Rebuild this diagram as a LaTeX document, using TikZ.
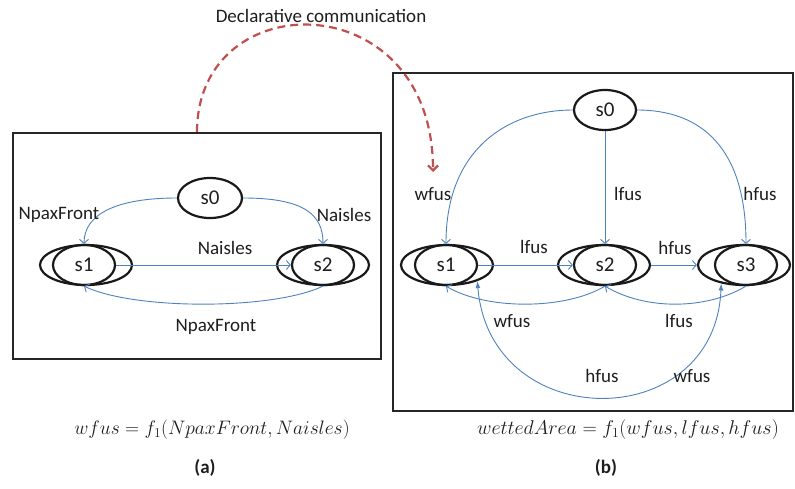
\documentclass[tikz,border=0pt]{standalone}
\usepackage{graphicx}
\usepackage{fontspec}
\setmainfont{Carlito}
\usetikzlibrary{shapes.geometric,arrows.meta}
\definecolor{eblue}{RGB}{79,129,189}
\definecolor{ered}{RGB}{192,80,77}
\definecolor{txt}{RGB}{30,30,30}
\begin{document}
\begin{tikzpicture}[x=1pt,y=-1pt,
  every node/.style={font=\fontsize{19}{22}\selectfont, text=txt},
  frame/.style={draw=black!85, line width=2pt, rectangle, inner sep=0pt},
  st/.style={ellipse, draw=black!90, line width=2.2pt, minimum width=62pt, minimum height=40pt, inner sep=0pt, font=\fontsize{21}{24}\selectfont},
  sto/.style={ellipse, draw=black!90, line width=2.2pt, minimum width=92pt, minimum height=40pt, inner sep=0pt},
  tr/.style={draw=eblue, line width=0.9pt, -{Straight Barb[length=4pt,width=9pt]}},
  trb/.style={draw=eblue, line width=0.9pt, {Latex[length=7pt,width=5pt]}-{Latex[length=7pt,width=5pt]}},
  decl/.style={draw=ered, line width=2.2pt, dash pattern=on 8pt off 5pt, -{Straight Barb[length=5pt,width=10pt]}},
  mth/.style={font=\fontsize{20}{24}\selectfont},
  captxt/.style={font=\fontsize{19}{22}\selectfont\bfseries}
]
\useasboundingbox (0,0) rectangle (795,488);

% frames
\node[frame, minimum width=368pt, minimum height=226pt] (boxa) at (197,246) {};
\node[frame, minimum width=400pt, minimum height=338pt] (boxb) at (593,242) {};

% declarative communication
\coordinate (declend) at (433,172);
\draw[decl] (boxa.north) .. controls (197,-17) and (433,-17) .. (declend);
\node (decltxt) at (321,16) {Declarative communication};

% left diagram
\node[st, minimum width=64pt] (a0) at (210,198) {s0};
\node[sto] (a1o) at (86,265) {};
\node[st] (a1) at (84,265) {s1};
\node[sto] (a2o) at (323,265) {};
\node[st] (a2) at (323,265) {s2};

\draw[tr] (a0.west) .. controls +(-60,0) and +(0,-30) .. (a1.north);
\draw[tr] (a0.east) .. controls +(60,0) and +(0,-30) .. (a2.north);
\draw[tr] (a1.east) -- (a2.west);
\draw[tr] (a2.south) .. controls +(-50,24) and +(50,24) .. (a1.south);

\node (la1) at (59,215) {NpaxFront};
\node (la2) at (344,215) {Naisles};
\node (la3) at (225,248) {Naisles};
\node (la4) at (216,327) {NpaxFront};

% right diagram
\node[st] (b0) at (605,110) {s0};
\node[sto] (b1o) at (447,265) {};
\node[st] (b1) at (446,265) {s1};
\node[sto] (b2o) at (604,265) {};
\node[st] (b2) at (605,265) {s2};
\node[sto] (b3o) at (744,265) {};
\node[st] (b3) at (746,265) {s3};

\draw[tr] (b0.west) .. controls +(-65,0) and +(0,-95) .. (b1.north);
\draw[tr] (b0.south) -- (b2.north);
\draw[tr] (b0.east) .. controls +(65,0) and +(0,-95) .. (b3.north);
\draw[tr] (b1.east) -- (b2.west);
\draw[tr] (b2o.east) -- (b3o.west);
\draw[tr] (b2.south) .. controls +(-40,24) and +(40,24) .. (b1.south);
\draw[tr] (b3.south) .. controls +(-40,24) and +(40,24) .. (b2.south);
\draw[trb] (b1o.-28) .. controls (490,435) and (715,435) .. (b3o.-141);

\node (lb1) at (433,194) {wfus};
\node (lb2) at (628,194) {lfus};
\node (lb3) at (760,194) {hfus};
\node (lb4) at (534,247) {lfus};
\node (lb5) at (675,248) {hfus};
\node (lb6) at (512,321) {wfus};
\node (lb7) at (679,321) {lfus};
\node (lb8) at (602,376) {hfus};
\node (lb9) at (692,376) {wfus};

% formulas and captions
\node[mth] (fa) at (212,430) {\scalebox{0.94}{$wfus = f_1(NpaxFront,Naisles)$}};
\node[mth] (fb) at (628,430) {\scalebox{0.96}{$wettedArea = f_1(wfus,lfus,hfus)$}};
\node[captxt] (capa) at (205,468) {(a)};
\node[captxt] (capb) at (606,468) {(b)};
\end{tikzpicture}
\end{document}
